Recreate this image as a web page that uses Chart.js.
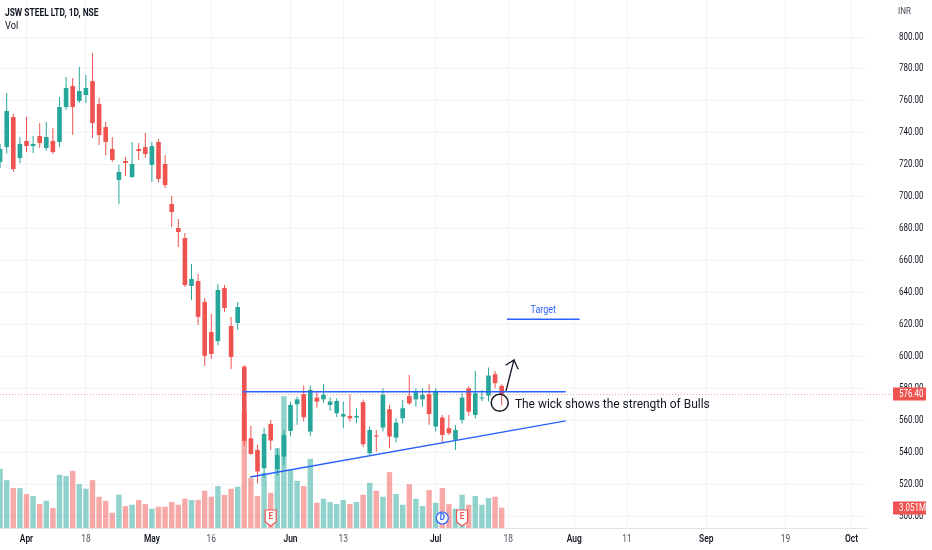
<!DOCTYPE html>
<html>
<head>
<meta charset="utf-8">
<title>JSW STEEL LTD, 1D, NSE</title>
<script src="https://cdn.jsdelivr.net/npm/chart.js@4.4.1/dist/chart.umd.min.js"></script>
<style>
  html, body { margin: 0; padding: 0; background: #ffffff; }
  canvas { display: block; }
</style>
</head>
<body>
<canvas id="grafico" width="932" height="550"></canvas>
<script>
// Fechas de cada vela (sesiones NSE, 2022)
const fechas = [
    '03-28', '03-29', '03-30', '03-31', '04-01', '04-04', '04-05', '04-06', '04-07', '04-08',
    '04-11', '04-12', '04-13', '04-18', '04-19', '04-20', '04-21', '04-22', '04-25', '04-26',
    '04-27', '04-28', '04-29', '05-02', '05-04', '05-05', '05-06', '05-09', '05-10', '05-11',
    '05-12', '05-13', '05-16', '05-17', '05-18', '05-19', '05-20', '05-23', '05-24', '05-25',
    '05-26', '05-27', '05-30', '05-31', '06-01', '06-02', '06-03', '06-06', '06-07', '06-08',
    '06-09', '06-10', '06-13', '06-14', '06-15', '06-16', '06-17', '06-20', '06-21', '06-22',
    '06-23', '06-24', '06-27', '06-28', '06-29', '06-30', '07-01', '07-04', '07-05', '07-06',
    '07-07', '07-08', '07-11', '07-12', '07-13', '07-14', '07-15'
];

// Precios (INR)
const apertura = [
    721.7, 731.1, 749.9, 724.2, 734.9, 731.7, 738.0, 730.5, 734.9, 734.3,
    756.2, 769.3, 760.0, 763.7, 772.4, 758.0, 743.6, 729.9, 710.5, 722.4,
    712.3, 729.9, 731.1, 719.9, 734.3, 720.5, 695.4, 680.4, 674.1, 644.1,
    647.2, 634.1, 615.3, 609.6, 642.8, 619.0, 620.9, 593.6, 548.7, 541.4,
    529.9, 557.7, 529.5, 537.2, 553.3, 570.0, 576.3, 552.9, 574.2, 573.1,
    569.6, 564.4, 562.3, 562.7, 561.7, 571.3, 539.3, 550.5, 555.4, 566.9,
    549.1, 561.2, 575.2, 573.1, 573.1, 576.3, 556.0, 561.7, 555.0, 547.7,
    560.2, 580.0, 563.3, 573.6, 575.4, 588.8, 581.5
];
const maximo = [
    733.0, 765.0, 752.0, 737.4, 750.0, 738.0, 746.0, 746.8, 743.0, 762.4,
    775.0, 774.3, 781.2, 776.2, 790.0, 762.0, 746.8, 737.4, 720.0, 724.9,
    734.3, 733.6, 739.9, 734.3, 736.1, 726.0, 700.4, 686.0, 677.3, 657.9,
    651.6, 636.6, 626.6, 645.3, 644.7, 624.7, 634.1, 594.5, 556.6, 544.6,
    555.0, 560.2, 542.5, 553.9, 571.7, 574.8, 581.7, 581.7, 577.5, 582.5,
    574.2, 573.8, 571.7, 575.9, 567.5, 573.0, 556.0, 553.9, 580.0, 569.6,
    561.2, 572.7, 588.4, 580.0, 580.0, 582.5, 580.0, 563.3, 563.3, 557.0,
    576.9, 581.1, 590.9, 579.0, 593.0, 590.9, 582.5
];
const minimo = [
    718.0, 727.0, 715.5, 721.0, 728.0, 727.4, 730.5, 729.0, 726.7, 731.1,
    754.3, 738.6, 758.7, 758.7, 736.8, 732.4, 726.0, 721.7, 695.4, 713.0,
    711.7, 723.0, 724.2, 709.2, 709.0, 705.4, 681.0, 668.5, 643.5, 635.3,
    619.7, 594.0, 598.4, 607.0, 627.8, 592.1, 616.5, 544.0, 538.3, 520.6,
    524.0, 541.4, 525.0, 532.0, 550.0, 557.1, 559.2, 550.0, 568.0, 571.0,
    566.0, 562.0, 555.0, 559.2, 558.1, 543.0, 538.3, 540.4, 553.0, 542.5,
    546.0, 558.0, 569.6, 568.5, 568.5, 557.1, 553.0, 545.6, 550.8, 541.4,
    558.0, 563.0, 561.2, 572.0, 571.7, 580.0, 569.2
];
const cierre = [
    729.9, 753.7, 717.3, 733.0, 731.7, 733.0, 733.6, 737.4, 728.0, 756.2,
    768.1, 756.2, 766.2, 768.1, 746.1, 738.6, 734.3, 723.0, 715.5, 721.1,
    720.5, 728.6, 726.7, 731.7, 711.1, 707.3, 690.4, 677.9, 644.7, 648.5,
    624.7, 600.3, 601.5, 641.6, 630.3, 599.6, 630.9, 547.1, 538.9, 527.9,
    551.4, 547.3, 538.3, 550.8, 569.6, 573.1, 561.9, 579.0, 571.7, 575.9,
    571.7, 572.1, 563.8, 561.2, 562.7, 545.0, 553.9, 549.8, 575.9, 549.8,
    558.5, 567.5, 570.6, 577.5, 575.9, 563.8, 578.4, 550.8, 551.9, 553.9,
    574.2, 565.4, 576.9, 574.2, 588.0, 583.2, 576.4
];
// Volumen en millones
const volumen = [
    8.9, 7.2, 6.0, 6.0, 5.1, 4.8, 3.6, 4.1, 3.0, 8.0,
    7.8, 8.6, 6.6, 5.9, 7.2, 4.7, 4.1, 2.3, 5.0, 3.3,
    3.5, 4.2, 3.6, 2.9, 3.2, 3.2, 3.9, 3.5, 4.4, 4.2,
    4.2, 5.6, 4.7, 6.3, 5.0, 5.9, 6.2, 17.4, 7.5, 4.8,
    8.3, 5.3, 12.0, 19.8, 8.7, 7.1, 6.3, 10.4, 3.8, 4.4,
    3.9, 3.6, 4.2, 3.6, 3.9, 5.0, 6.8, 5.6, 4.7, 8.4,
    5.1, 3.5, 6.6, 4.4, 3.3, 5.7, 3.8, 6.0, 3.6, 2.9,
    5.0, 3.5, 4.8, 3.5, 4.5, 4.7, 3.051
];

// Eje de tiempo (posición en sesiones y texto)
const posTicks = [4, 13, 23, 32, 44, 52, 66, 77, 87, 95, 107, 119, 129];
const etiquetasTicks = ['Apr', '18', 'May', '16', 'Jun', '13', 'Jul', '18', 'Aug', '11', 'Sep', '19', 'Oct'];
const ticksPrecio = [500, 520, 540, 560, 580, 600, 620, 640, 660, 680, 700, 720, 740, 760, 780, 800];

// Dibujos del autor (sesión, precio)
const lineaResistencia = [{ x: 36.8, y: 577.8 }, { x: 85.7, y: 577.8 }];
const lineaSoporte = [{ x: 37.9, y: 524.5 }, { x: 85.7, y: 559.6 }];
const lineaObjetivo = [{ x: 76.8, y: 623.2 }, { x: 87.8, y: 623.2 }];
const flecha = [
    { x: 76.65, y: 578.3 }, { x: 77.86, y: 597.7 }, { x: 76.6, y: 594.4 },
    { x: 77.86, y: 597.7 }, { x: 78.5, y: 591.9 }
];
const circulo = [{ x: 75.7, y: 571.0 }];
const notas = [
    { x: 82.3, y: 628.9, texto: 'Target', color: '#2962ff', alinear: 'center', tam: 10.5, escala: 0.85 },
    { x: 78.0, y: 570.0, texto: 'The wick shows the strength of Bulls', color: '#131722', alinear: 'left', tam: 13, escala: 0.92 }
];
// Eventos: E = resultados, D = dividendo
const eventos = [
    { x: 41, tipo: 'E' }, { x: 67, tipo: 'D' }, { x: 70, tipo: 'E' }
];

const VERDE = '#26a69a';
const ROJO = '#ef5350';
const AZUL = '#2962ff';
const FUENTE = 'Roboto, sans-serif';

const esAlcista = cierre.map((c, i) => c >= apertura[i]);
const colorVela = esAlcista.map(a => a ? VERDE : ROJO);
const colorVolumen = esAlcista.map(a => a ? 'rgba(38,166,154,0.5)' : 'rgba(239,83,80,0.5)');

const datosCuerpo = fechas.map((f, i) => ({ x: i, y: [apertura[i], cierre[i]] }));
const datosMecha = fechas.map((f, i) => ({ x: i, y: [minimo[i], maximo[i]] }));
const datosVolumen = fechas.map((f, i) => ({ x: i, y: volumen[i] }));

const ultimoPrecio = cierre[cierre.length - 1];
const ultimoVolumen = volumen[volumen.length - 1];

// Texto algo estrecho, como la fuente de TradingView
function textoEstrecho(ctx, texto, x, y, fuente, escala, alinear) {
    ctx.save();
    ctx.translate(x, y);
    ctx.scale(escala, 1);
    ctx.font = fuente;
    ctx.textAlign = alinear;
    ctx.textBaseline = 'middle';
    ctx.fillText(texto, 0, 0);
    ctx.restore();
}

// Textos, etiquetas y marcadores que dibuja TradingView encima del gráfico
const dibujosExtra = {
    id: 'dibujosExtra',
    beforeDatasetsDraw(chart) {
        const { ctx, chartArea, scales } = chart;
        const yp = Math.round(scales.y.getPixelForValue(ultimoPrecio)) + 0.5;
        ctx.save();
        ctx.strokeStyle = 'rgba(239,83,80,0.55)';
        ctx.lineWidth = 1;
        ctx.setLineDash([1, 2]);
        ctx.beginPath();
        ctx.moveTo(chartArea.left, yp);
        ctx.lineTo(893, yp);
        ctx.stroke();
        ctx.restore();
    },
    afterDatasetsDraw(chart) {
        const { ctx, scales } = chart;
        ctx.save();
        notas.forEach(n => {
            ctx.fillStyle = n.color;
            textoEstrecho(ctx, n.texto, scales.x.getPixelForValue(n.x), scales.y.getPixelForValue(n.y),
                n.tam + 'px ' + FUENTE, n.escala, n.alinear);
        });

        eventos.forEach(ev => {
            const cx = scales.x.getPixelForValue(ev.x);
            const cy = 518;
            ctx.lineWidth = 1.2;
            ctx.fillStyle = '#ffffff';
            if (ev.tipo === 'E') {
                ctx.strokeStyle = ROJO;
                ctx.beginPath();
                ctx.moveTo(cx - 5.5, cy - 8);
                ctx.lineTo(cx + 5.5, cy - 8);
                ctx.lineTo(cx + 5.5, cy + 4);
                ctx.lineTo(cx, cy + 8);
                ctx.lineTo(cx - 5.5, cy + 4);
                ctx.closePath();
                ctx.fill();
                ctx.stroke();
                ctx.fillStyle = ROJO;
            } else {
                ctx.strokeStyle = AZUL;
                ctx.beginPath();
                ctx.arc(cx, cy, 6, 0, Math.PI * 2);
                ctx.fill();
                ctx.stroke();
                ctx.fillStyle = AZUL;
            }
            textoEstrecho(ctx, ev.tipo, cx, cy - (ev.tipo === 'E' ? 1 : 0), 'bold 9px ' + FUENTE, 0.9, 'center');
        });
        ctx.restore();
    },
    afterDraw(chart) {
        const { ctx, scales } = chart;
        ctx.save();
        // Cabecera
        ctx.fillStyle = '#131722';
        textoEstrecho(ctx, 'JSW STEEL LTD, 1D, NSE', 5, 13, 'bold 10px ' + FUENTE, 0.84, 'left');
        textoEstrecho(ctx, 'Vol', 5, 26, '10.5px ' + FUENTE, 0.88, 'left');
        ctx.fillStyle = '#434651';
        textoEstrecho(ctx, 'INR', 898, 12, '9.5px ' + FUENTE, 0.85, 'left');

        // Etiquetas del eje de precios
        ctx.fillStyle = '#131722';
        ticksPrecio.forEach(v => {
            textoEstrecho(ctx, v.toFixed(2), 899, scales.y.getPixelForValue(v), '10px ' + FUENTE, 0.8, 'left');
        });

        // Etiquetas del eje de tiempo
        posTicks.forEach((p, i) => {
            const esMes = isNaN(Number(etiquetasTicks[i]));
            ctx.fillStyle = esMes ? '#131722' : '#50535e';
            textoEstrecho(ctx, etiquetasTicks[i], scales.x.getPixelForValue(p), 539,
                (esMes ? '600 ' : '') + '10.5px ' + FUENTE, 0.8, 'center');
        });

        // Etiqueta del último precio y del último volumen
        const etiqueta = (texto, y) => {
            const yc = Math.round(y);
            ctx.fillStyle = ROJO;
            ctx.fillRect(893, yc - 6.5, 33, 13);
            ctx.fillStyle = '#ffffff';
            textoEstrecho(ctx, texto, 899, yc + 0.5, '10px ' + FUENTE, 0.8, 'left');
        };
        etiqueta(ultimoPrecio.toFixed(2), scales.y.getPixelForValue(ultimoPrecio));
        etiqueta(ultimoVolumen.toFixed(3) + 'M', scales.yv.getPixelForValue(ultimoVolumen));
        ctx.restore();
    }
};

const ctx = document.getElementById('grafico').getContext('2d');

const grafico = new Chart(ctx, {
    type: 'bar',
    data: {
        datasets: [
            {
                type: 'line',
                data: lineaResistencia,
                borderColor: AZUL,
                borderWidth: 1.5,
                pointRadius: 0,
                order: 0
            },
            {
                type: 'line',
                data: lineaSoporte,
                borderColor: AZUL,
                borderWidth: 1.5,
                pointRadius: 0,
                order: 0
            },
            {
                type: 'line',
                data: lineaObjetivo,
                borderColor: AZUL,
                borderWidth: 1.5,
                pointRadius: 0,
                order: 0
            },
            {
                type: 'line',
                data: flecha,
                borderColor: '#131722',
                borderWidth: 1.3,
                pointRadius: 0,
                order: 0
            },
            {
                type: 'line',
                data: circulo,
                showLine: false,
                pointRadius: 8.5,
                pointBorderWidth: 1.5,
                pointBorderColor: '#131722',
                pointBackgroundColor: 'rgba(0,0,0,0)',
                order: 0
            },
            {
                label: 'Cuerpo',
                data: datosCuerpo,
                backgroundColor: colorVela,
                grouped: false,
                categoryPercentage: 1,
                barPercentage: 0.7,
                minBarLength: 1,
                order: 1
            },
            {
                label: 'Mecha',
                data: datosMecha,
                backgroundColor: colorVela,
                grouped: false,
                categoryPercentage: 1,
                barPercentage: 0.2,
                maxBarThickness: 1,
                order: 2
            },
            {
                label: 'Vol',
                data: datosVolumen,
                yAxisID: 'yv',
                backgroundColor: colorVolumen,
                grouped: false,
                categoryPercentage: 1,
                barPercentage: 0.82,
                order: 3
            }
        ]
    },
    options: {
        responsive: false,
        animation: false,
        events: [],
        layout: { padding: 0, autoPadding: false },
        plugins: {
            legend: { display: false },
            tooltip: { enabled: false }
        },
        scales: {
            x: {
                type: 'linear',
                min: -0.015,
                max: 131.2,
                offset: false,
                grid: { color: '#f0f3fa', drawTicks: false, offset: false },
                border: { display: true, color: '#e0e3eb' },
                afterBuildTicks: s => { s.ticks = posTicks.map(v => ({ value: v })); },
                afterFit: s => { s.height = 22; },
                ticks: { display: false, autoSkip: false, maxRotation: 0 }
            },
            y: {
                position: 'right',
                min: 492.5,
                max: 823.2,
                grid: { color: '#f0f3fa', drawTicks: false },
                border: { display: false },
                afterBuildTicks: s => { s.ticks = ticksPrecio.map(v => ({ value: v })); },
                afterFit: s => { s.width = 66; },
                ticks: { display: false }
            },
            yv: {
                display: false,
                min: 0,
                max: 79.4
            }
        }
    },
    plugins: [dibujosExtra]
});
</script>
</body>
</html>
